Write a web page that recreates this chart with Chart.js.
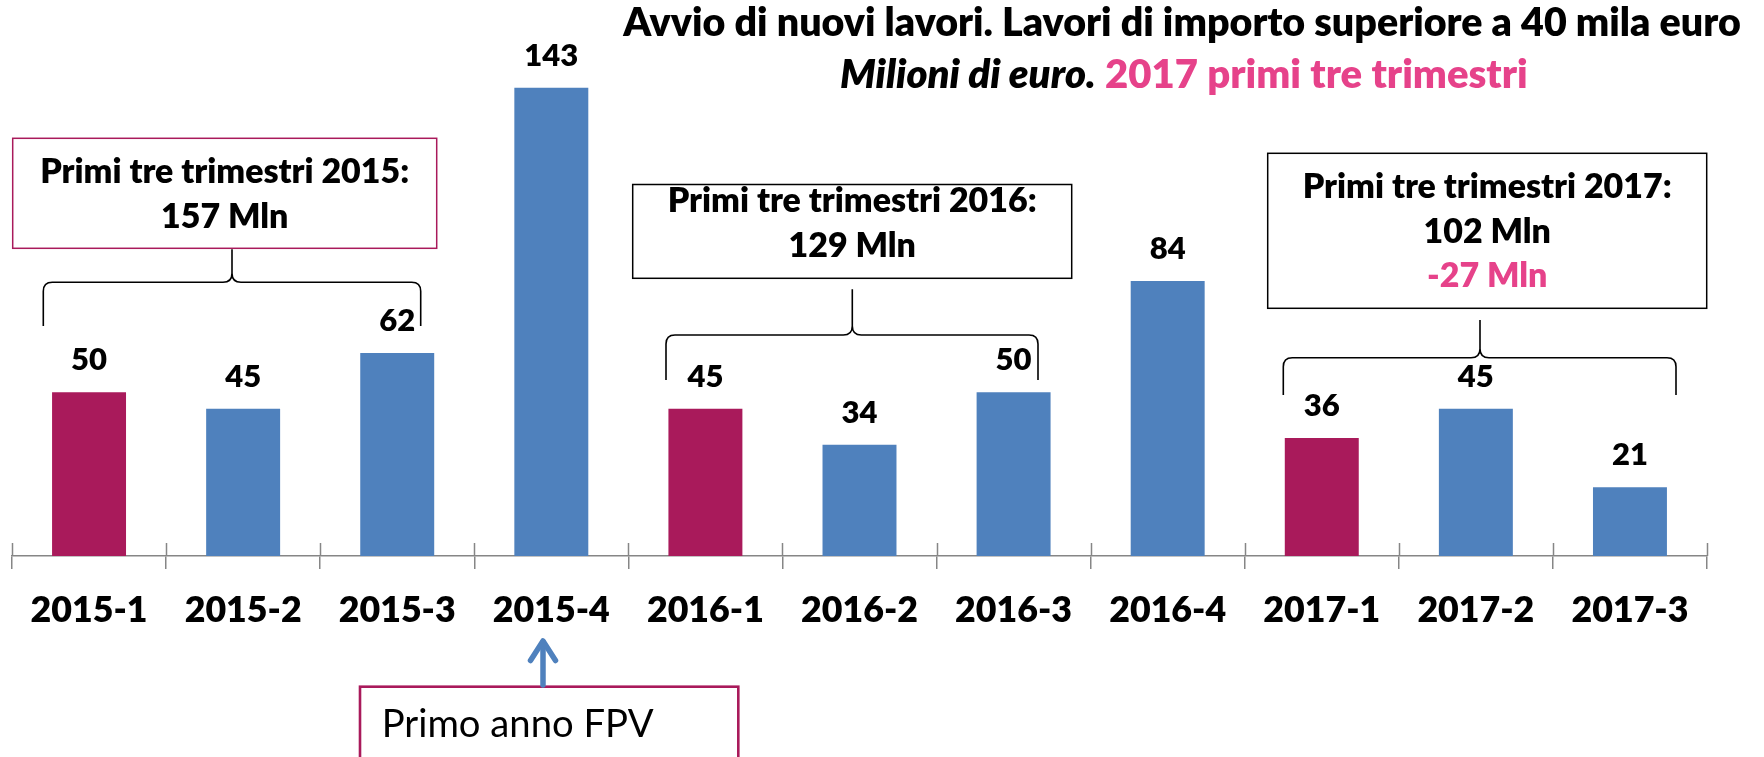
<!DOCTYPE html>
<html><head><meta charset="utf-8">
<script src="https://cdn.jsdelivr.net/npm/chart.js@4.4.0/dist/chart.umd.min.js"></script>
<style>html,body{margin:0;padding:0;background:#fff;overflow:hidden}canvas{display:block}</style>
</head><body>
<canvas id="c" width="1764" height="757"></canvas>
<script>
// ---- data ----
const categories = ['2015-1','2015-2','2015-3','2015-4','2016-1','2016-2','2016-3','2016-4','2017-1','2017-2','2017-3'];
const values = [50, 45, 62, 143, 45, 34, 50, 84, 36, 45, 21];
const titleLine1 = 'Avvio di nuovi lavori. Lavori di importo superiore a 40 mila euro';
const titleLine2a = 'Milioni di euro.';
const titleLine2b = ' 2017 primi tre trimestri';
const box2015 = ['Primi tre trimestri 2015:', '157 Mln'];
const box2016 = ['Primi tre trimestri 2016:', '129 Mln'];
const box2017 = ['Primi tre trimestri 2017:', '102 Mln', '-27 Mln'];
const noteFPV = 'Primo anno FPV';

const BLUE = '#4F81BD', CRIMSON = '#A91A5B', PINK = '#E6428A', AXIS = '#868686';
const FAM = 'Lato, "Open Sans", sans-serif';
const W = '800';
const colors = categories.map(c => c.endsWith('-1') ? CRIMSON : BLUE);

const mctx = document.createElement('canvas').getContext('2d');
function fitSize(text, style, target) {
  mctx.font = style + ' 100px ' + FAM;
  return 100 * target / mctx.measureText(text).width;
}

function build() {
  const sx = fitSize('2015-1', W, 117);
  const sv = fitSize('143', W, 54);
  const sBox = fitSize(box2015[0], W, 369);
  const sT1 = fitSize(titleLine1, W, 1118);
  const sFPV = fitSize(noteFPV, 'normal', 272);
  mctx.font = 'italic ' + W + ' 100px ' + FAM;
  const wA = mctx.measureText(titleLine2a).width;
  mctx.font = W + ' 100px ' + FAM;
  const wB = mctx.measureText(titleLine2b).width;
  const sT2 = 100 * 688 / (wA + wB);

  const AREA_BOTTOM = 556, TICK = 13;
  const tickPad = 610.5 - AREA_BOTTOM - TICK - 0.6 * sx - 0.5;
  const bottomPad = 757 - AREA_BOTTOM - (TICK + tickPad + 1.2 * sx);

  const upTicks = {
    id: 'upTicks',
    afterDatasetsDraw(chart) {
      const xs = chart.scales.x, ctx = chart.ctx, b = chart.chartArea.bottom;
      ctx.save();
      ctx.strokeStyle = AXIS; ctx.lineWidth = 1.5;
      for (let i = 0; i <= categories.length; i++) {
        const x = Math.round(xs.getPixelForValue(i - 0.5)) + 0.5;
        ctx.beginPath(); ctx.moveTo(x, b - TICK); ctx.lineTo(x, b); ctx.stroke();
      }
      // value labels
      const meta = chart.getDatasetMeta(0);
      ctx.fillStyle = '#000'; ctx.textAlign = 'center'; ctx.textBaseline = 'alphabetic';
      ctx.font = W + ' ' + sv + 'px ' + FAM;
      meta.data.forEach((el, i) => ctx.fillText(String(values[i]), el.x, el.y - 22));
      ctx.restore();
    }
  };

  function brace(ctx, x1, x2, xm, yh, ytop, yend) {
    const r = 9;
    ctx.beginPath();
    ctx.moveTo(x1, yend); ctx.lineTo(x1, yh + r);
    ctx.quadraticCurveTo(x1, yh, x1 + r, yh);
    ctx.lineTo(xm - r, yh);
    ctx.quadraticCurveTo(xm, yh, xm, yh - r);
    ctx.lineTo(xm, ytop);
    ctx.moveTo(xm, yh - r);
    ctx.quadraticCurveTo(xm, yh, xm + r, yh);
    ctx.lineTo(x2 - r, yh);
    ctx.quadraticCurveTo(x2, yh, x2, yh + r);
    ctx.lineTo(x2, yend);
    ctx.stroke();
  }
  function box(ctx, x1, y1, x2, y2, color, lw) {
    ctx.strokeStyle = color; ctx.lineWidth = lw;
    ctx.strokeRect(x1, y1, x2 - x1, y2 - y1);
  }
  function lines(ctx, arr, cx, baselines, colorsArr) {
    ctx.font = W + ' ' + sBox + 'px ' + FAM;
    ctx.textAlign = 'center'; ctx.textBaseline = 'alphabetic';
    arr.forEach((t, i) => { ctx.fillStyle = colorsArr[i] || '#000'; ctx.fillText(t, cx, baselines[i]); });
  }

  const annot = {
    id: 'annot',
    afterDraw(chart) {
      const ctx = chart.ctx;
      ctx.save();
      // title
      ctx.fillStyle = '#000'; ctx.textBaseline = 'alphabetic';
      ctx.textAlign = 'center';
      ctx.font = W + ' ' + sT1 + 'px ' + FAM;
      ctx.fillText(titleLine1, 1182, 36);
      ctx.textAlign = 'left';
      ctx.font = 'italic ' + W + ' ' + sT2 + 'px ' + FAM;
      ctx.fillText(titleLine2a, 840, 88);
      const wa = ctx.measureText(titleLine2a).width;
      ctx.font = W + ' ' + sT2 + 'px ' + FAM;
      ctx.fillStyle = PINK;
      ctx.fillText(titleLine2b, 840 + wa, 88);

      // boxes
      box(ctx, 12.7, 138.3, 436.7, 248.3, CRIMSON, 1.5);
      lines(ctx, box2015, 224.7, [183.3, 228.3], []);
      box(ctx, 632.7, 184.5, 1071.7, 278.3, '#000', 1.5);
      lines(ctx, box2016, 852.2, [211.7, 256.7], []);
      box(ctx, 1267.7, 153.3, 1706.7, 308.3, '#000', 1.5);
      lines(ctx, box2017, 1487.2, [198.3, 242.7, 287.3], ['#000', '#000', PINK]);

      // braces
      ctx.strokeStyle = '#000'; ctx.lineWidth = 1.6;
      brace(ctx, 43.3, 420.7, 232, 282.3, 249.3, 326);
      brace(ctx, 666, 1038, 852.3, 335, 289.3, 380);
      brace(ctx, 1283.3, 1676, 1480, 357.7, 320, 395);

      // FPV note
      box(ctx, 360, 686.7, 738.3, 775, CRIMSON, 2.6);
      ctx.fillStyle = '#000'; ctx.textAlign = 'left';
      ctx.font = 'normal ' + sFPV + 'px ' + FAM;
      ctx.fillText(noteFPV, 381.7, 736.7);
      // arrow
      ctx.strokeStyle = BLUE; ctx.lineWidth = 5.5; ctx.lineCap = 'round'; ctx.lineJoin = 'round';
      ctx.beginPath(); ctx.moveTo(543, 685); ctx.lineTo(543, 642); ctx.stroke();
      ctx.beginPath(); ctx.moveTo(530.5, 660.5); ctx.lineTo(543, 641); ctx.lineTo(555.5, 660.5); ctx.stroke();
      ctx.restore();
    }
  };

  const chart = new Chart(document.getElementById('c'), {
    type: 'bar',
    data: {
      labels: categories,
      datasets: [{ data: values, backgroundColor: colors, borderWidth: 0, barPercentage: 0.48, categoryPercentage: 1 }]
    },
    options: {
      responsive: false, animation: false, devicePixelRatio: 1,
      layout: { padding: { left: 12, right: 57, top: 32, bottom: bottomPad } },
      plugins: { legend: { display: false }, tooltip: { enabled: false }, title: { display: false } },
      scales: {
        x: {
          grid: { display: true, drawOnChartArea: false, drawTicks: true, tickLength: TICK, color: AXIS, lineWidth: 1.5 },
          border: { display: true, color: AXIS, width: 1.5 },
          ticks: { color: '#000', font: { family: FAM, weight: W, size: sx }, padding: tickPad, maxRotation: 0, autoSkip: false }
        },
        y: { display: false, min: 0, max: 160 }
      }
    },
    plugins: [upTicks, annot]
  });
  // make the plot area end exactly at the reference axis line
  for (let k = 0; k < 3; k++) {
    const d = AREA_BOTTOM - chart.chartArea.bottom;
    if (Math.abs(d) < 0.3) break;
    chart.options.layout.padding.bottom -= d;
    chart.update('none');
  }
}

const loads = ['800 20px Lato', 'italic 800 20px Lato', 'normal 20px Lato'].map(f => document.fonts.load(f).catch(() => null));
Promise.all(loads).then(build, build);
</script>
</body></html>
